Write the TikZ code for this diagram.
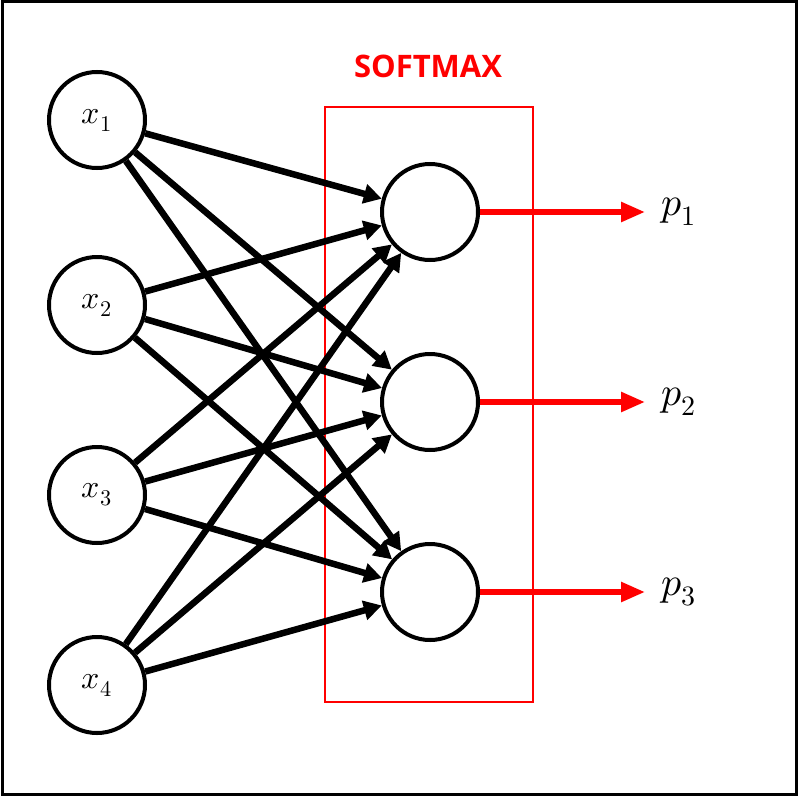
\documentclass[tikz,border=0pt]{standalone}
\usepackage{fontspec}
\usepackage{unicode-math}
\newfontfamily\sftitle{Open Sans}
\usetikzlibrary{arrows.meta}
\begin{document}
\begin{tikzpicture}[x=1pt,y=-1pt,
  neuron/.style={circle,draw=black,line width=4pt,minimum size=96pt,inner sep=0pt},
  conn/.style={line width=6.5pt,-{Triangle[length=18pt,width=19pt]}},
  outc/.style={red,line width=5.5pt,-{Triangle[length=24pt,width=19pt]}}]
\useasboundingbox (0,0) rectangle (799,797);
\draw[line width=3pt] (2,2) rectangle (796,794);
\draw[red,line width=2.5pt] (325,107) rectangle (533,702);
\node[red,font=\sftitle\bfseries\fontsize{31}{31}\selectfont] (title) at (428,66) {SOFTMAX};
\foreach \i/\y in {1/120,2/305,3/495,4/685}
  \node[neuron] (x\i) at (97,\y) {\fontsize{32}{32}\selectfont$x_{\i}$};
\foreach \j/\y in {1/212,2/402,3/592}{
  \node[neuron] (o\j) at (430,\y) {};
  \node[anchor=west] (p\j) at (658,\y) {\fontsize{40}{40}\selectfont$p_{\j}$};
  \coordinate (e\j) at (645,\y);
  \draw[outc] (o\j.east) -- (e\j);
}
\foreach \i in {1,...,4}
  \foreach \j in {1,2,3}
    \draw[conn] (x\i) -- (o\j);
\end{tikzpicture}
\end{document}
